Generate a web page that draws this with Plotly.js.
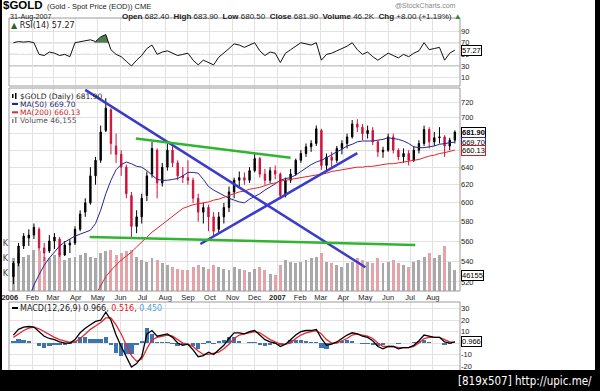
<!DOCTYPE html>
<html><head><meta charset="utf-8">
<script src="https://cdn.plot.ly/plotly-3.0.1.min.js"></script>
<style>html,body{margin:0;padding:0;background:#000;}#chart{width:600px;height:391px;}</style>
</head><body><div id="chart"></div>
<script>
// ---------- DATA (weekly) ----------
const weeks = ['2006-01-06','2006-01-13','2006-01-20','2006-01-27','2006-02-03','2006-02-10','2006-02-17','2006-02-24','2006-03-03','2006-03-10',
'2006-03-17','2006-03-24','2006-03-31','2006-04-07','2006-04-14','2006-04-21','2006-04-28','2006-05-05','2006-05-12','2006-05-19',
'2006-05-26','2006-06-02','2006-06-09','2006-06-16','2006-06-23','2006-06-30','2006-07-07','2006-07-14','2006-07-21','2006-07-28',
'2006-08-04','2006-08-11','2006-08-18','2006-08-25','2006-09-01','2006-09-08','2006-09-15','2006-09-22','2006-09-29','2006-10-06',
'2006-10-13','2006-10-20','2006-10-27','2006-11-03','2006-11-10','2006-11-17','2006-11-24','2006-12-01','2006-12-08','2006-12-15',
'2006-12-22','2006-12-29','2007-01-05','2007-01-12','2007-01-19','2007-01-26','2007-02-02','2007-02-09','2007-02-16','2007-02-23',
'2007-03-02','2007-03-09','2007-03-16','2007-03-23','2007-03-30','2007-04-06','2007-04-13','2007-04-20','2007-04-27','2007-05-04',
'2007-05-11','2007-05-18','2007-05-25','2007-06-01','2007-06-08','2007-06-15','2007-06-22','2007-06-29','2007-07-06','2007-07-13',
'2007-07-20','2007-07-27','2007-08-03','2007-08-10','2007-08-17','2007-08-24','2007-08-31'];

const priceOpen = [525,538,555,563,566,572,553,550,560,562, 546,556,558,572,590,600,630,648,684,710,
665,655,640,608,575,585,608,632,660,622, 640,660,645,630,628,625,605,590,595,585,
572,585,595,612,625,628,625,636,650,632, 625,636,632,608,625,632,648,656,664,668,
684,642,652,648,662,668,676,692,688,680, 684,670,658,660,676,660,652,656,648,660,
668,685,670,675,676,665,672];
const priceHigh = [540,558,568,572,578,574,558,566,568,564, 560,562,575,592,605,640,652,690,725,712,
680,660,643,612,592,610,635,670,662,645, 668,666,648,640,648,628,610,600,598,590,
590,600,618,628,635,634,640,656,652,638, 640,642,634,628,638,650,660,668,672,690,
686,656,658,665,672,680,697,698,692,690, 688,672,664,680,680,662,662,660,665,672,
690,688,682,688,678,675,684];
const priceLow = [518,535,552,555,562,550,540,548,552,544, 545,548,556,570,585,598,620,645,682,655,
645,630,605,564,568,578,602,628,605,618, 636,640,625,622,620,600,580,578,570,565,
568,578,590,605,618,620,622,634,628,620, 622,626,604,606,622,630,645,652,658,665,
637,636,640,645,655,662,674,682,672,674, 666,652,651,658,656,648,645,642,646,656,
665,662,665,668,652,660,668];
const priceClose = [538,555,565,566,574,553,548,560,564,546, 556,558,572,588,600,630,648,682,712,668,
655,640,610,575,585,605,630,662,622,640, 660,645,630,628,625,605,590,595,585,570,
585,595,612,625,628,625,636,650,632,625, 636,632,608,625,632,648,656,664,668,686,
642,652,648,662,668,676,692,688,680,684, 670,658,660,676,660,652,656,648,660,668,
685,670,675,676,665,672,681.9];
const volumeK = [95,110,100,105,120,115,100,95,105,110, 90,95,100,105,110,100,95,110,115,120,
105,110,115,120,100,90,85,95,90,80, 75,70,65,60,60,70,75,70,65,75,
70,65,60,70,65,60,55,65,70,60, 50,45,75,90,85,80,85,90,95,100,
110,85,80,75,70,80,85,95,90,85, 80,95,80,85,90,80,75,70,85,90,
100,110,95,105,130,85,60];
const ma50 = [null,null,null,505,517,527,536,543,549,555, 559,562,565,567,569,571,578,592,610,625,
637,643,646,644,641,640,636,631,626,625, 625,626,627,630,634,634,633,626,618,614,
611,608,605,603,601,600,604,607,610,614, 618,621,625,627,628,631,635,639,643,646,
648,651,655,658,661,665,667,670,671,671, 671,672,673,675,674,673,671,668,664,663,
663,664,665,667,668,669,669.7];
const ma200 = [null,null,null,null,null,null,null,null,null,null, null,null,null,null,null,null,508,516,525,531,
536,541,545,549,554,559,564,569,573,577, 581,586,590,594,596,598,599,600,601,603,
604,606,608,610,612,613,615,616,617,619, 621,622,624,625,626,627,628,629,630,631,
632,633,635,636,637,638,639,640,640,641, 641,642,643,644,644,645,646,647,648,649,
651,653,654,656,657,659,660.13];
const rsi14 = [70,72,71,72,70,50,48,54,52,48, 50,46,70,72,74,75,72,80,84,58,
50,46,38,30,40,48,60,66,50,54, 56,52,48,50,52,40,32,40,36,32,
45,52,60,68,66,62,66,70,56,48, 54,52,36,52,58,64,70,68,66,70,
40,50,52,56,60,64,70,58,50,54, 46,40,46,52,48,44,50,46,52,56,
70,58,60,62,40,52,57.27];
const rsiFillDates = ['2006-04-26','2006-04-28','2006-05-05','2006-05-12','2006-05-16'];
const rsiFillVals = [70,72,80,84,70];
const macdLine = [7,12,14,14.5,14,10,6,4,3,1, 0,0,3,9,13,16,19,20,27,20,
7,-3,-12,-21,-18,-12,8,11,6,7, 8,5,0,-2,-1,-6,-12,-11,-8,-10,
-6,-2,4,9,9,8,10,11,7,3, 1,0,-3,-1,3,7,10,11,11,12,
4,-2,-1,1,4,7,9,8,6,5, 2,-3,-5,-3,-3,-5,-4,-4,-2,2,
7,6,5,5,1,0,0.966];
const macdSignal = [5,8,11,13,14,12.5,10,7,5,3, 1.5,0.5,1,4,8,12,15,18,22,22,
16,8,-2,-11,-16,-14,-5,3,5,6, 7,6,3,0,-1,-3,-7,-10,-10,-9,
-8,-5,-1,4,7,8,9,10,9,6, 3,1,-1,-1,0,4,7,9,10,11,
8,3,0,0,2,4,7,8,7,6, 4,0,-3,-3,-3,-4,-4,-4,-3,0,
4,5,5,5,3,1,0.516];
const macdHist = [2,4,3,1.5,0,-2.5,-4,-3,-2,-2, -1.5,-0.5,2,5,5,4,4,4,5,-2,
-9,-11,-10,-10,-2,2,13,8,1,1, 1,-1,-3,-2,0,-3,-5,-1,2,-1,
2,3,5,5,2,0,1,1,-2,-3, -2,-1,-2,0,3,3,3,2,1,1,
-4,-5,-1,1,2,3,2,0,-1,-1, -2,-3,-2,0,0,-1,0,0,1,2,
3,1,0,0,-2,-1,0.45];
// trend lines drawn on the chart (date, price)
const trendBlueDown = {x:['2006-04-14','2007-05-01'], y:[736,534]};
const trendBlueUp   = {x:['2006-09-18','2007-04-20'], y:[557,656.5]};
const trendGreenTop = {x:['2006-06-22','2007-01-19'], y:[674,651]};
const trendGreenLow = {x:['2006-04-20','2007-07-08'], y:[564,556]};
// axis ticks
const monthTicks = ['2006-01-01','2006-02-01','2006-03-01','2006-04-01','2006-05-01','2006-06-01','2006-07-01','2006-08-01','2006-09-01','2006-10-01','2006-11-01','2006-12-01',
'2007-01-01','2007-02-01','2007-03-01','2007-04-01','2007-05-01','2007-06-01','2007-07-01','2007-08-01'];
const monthLabels = ['<b>2006</b>','Feb','Mar','Apr','May','Jun','Jul','Aug','Sep','Oct','Nov','Dec','<b>2007</b>','Feb','Mar','Apr','May','Jun','Jul','Aug'];
const priceTicks = [520,540,560,580,600,620,640,660,680,700,720];
const priceTickText = ['520','540','560','580','600','620','640','','','700','720'];
const rsiTicks = [10,30,50,70,90];
const macdTicks = [-20,-10,0,10,20,30];
const macdTickText = ['-20','-10','','10','20','30'];

// ---------- LAYOUT HELPERS ----------
const W = 600, H = 391;
const px = v => v / W;
const py = v => 1 - v / H;
const PL = 9, PR = 460;
const volColors = priceClose.map((c, i) => c >= priceOpen[i] ? '#a9a9a9' : '#e3a3a8');

const tickFont = {family:'Liberation Sans, Arial, sans-serif', size:7.5, color:'#222'};
const legFont = {family:'DejaVu Sans, Verdana, sans-serif', size:7.5, color:'#222'};

const traces = [
  {type:'scatter', mode:'lines', x:rsiFillDates, y:rsiFillVals, fill:'toself', fillcolor:'#4f7c4f', line:{width:0}, xaxis:'x', yaxis:'y', hoverinfo:'skip'},
  {type:'scatter', mode:'lines', x:weeks, y:rsi14, line:{color:'#111', width:1}, xaxis:'x', yaxis:'y', hoverinfo:'skip'},
  {type:'bar', x:weeks, y:volumeK, marker:{color:volColors, line:{width:0}}, width:4*86400000, xaxis:'x', yaxis:'y2', hoverinfo:'skip'},
  {type:'candlestick', x:weeks, open:priceOpen, high:priceHigh, low:priceLow, close:priceClose, xaxis:'x', yaxis:'y3',
    increasing:{line:{color:'#000', width:1}, fillcolor:'#000'}, decreasing:{line:{color:'#d0103a', width:1}, fillcolor:'#d0103a'}, whiskerwidth:0, hoverinfo:'skip'},
  {type:'scatter', mode:'lines', x:weeks, y:ma50, line:{color:'#25259a', width:1}, xaxis:'x', yaxis:'y3', hoverinfo:'skip'},
  {type:'scatter', mode:'lines', x:weeks, y:ma200, line:{color:'#e3262a', width:1}, xaxis:'x', yaxis:'y3', hoverinfo:'skip'},
  {type:'scatter', mode:'lines', x:trendBlueDown.x, y:trendBlueDown.y, line:{color:'#3a3acb', width:2.5}, xaxis:'x', yaxis:'y3', hoverinfo:'skip'},
  {type:'scatter', mode:'lines', x:trendBlueUp.x, y:trendBlueUp.y, line:{color:'#3a3acb', width:2.5}, xaxis:'x', yaxis:'y3', hoverinfo:'skip'},
  {type:'scatter', mode:'lines', x:trendGreenTop.x, y:trendGreenTop.y, line:{color:'#2fb52f', width:2.5}, xaxis:'x', yaxis:'y3', hoverinfo:'skip'},
  {type:'scatter', mode:'lines', x:trendGreenLow.x, y:trendGreenLow.y, line:{color:'#2fb52f', width:2.5}, xaxis:'x', yaxis:'y3', hoverinfo:'skip'},
  {type:'bar', x:weeks, y:macdHist, marker:{color:'#3b74b0', line:{width:0}}, width:6*86400000, xaxis:'x', yaxis:'y4', hoverinfo:'skip'},
  {type:'scatter', mode:'lines', x:weeks, y:macdSignal, line:{color:'#e8262e', width:1.3}, xaxis:'x', yaxis:'y4', hoverinfo:'skip'},
  {type:'scatter', mode:'lines', x:weeks, y:macdLine, line:{color:'#000', width:1.3}, xaxis:'x', yaxis:'y4', hoverinfo:'skip'}
];

function txt(x, y, text, font, extra) {
  return Object.assign({xref:'paper', yref:'paper', x:px(x), y:py(y), xanchor:'left', yanchor:'middle',
    text:text, showarrow:false, font:font, borderpad:0}, extra || {});
}
function box(yref, yval, text, color) {
  return {xref:'paper', yref:yref, x:px(PR+1), y:yval, xanchor:'left', yanchor:'middle', text:text, showarrow:false,
    font:{family:'Liberation Sans, Arial, sans-serif', size:7.5, color:'#000'}, bgcolor:'#fff', bordercolor:color, borderwidth:1, borderpad:0};
}

const annotations = [
  txt(2, 5.5, '<b>$GOLD</b>', {family:'Liberation Sans, Arial, sans-serif', size:11.5, color:'#000'}),
  txt(46, 6, '(Gold - Spot Price (EOD)) CME', {family:'Liberation Sans, Arial, sans-serif', size:7.5, color:'#222'}),
  txt(9, 16.3, '31-Aug-2007', {family:'Liberation Sans, Arial, sans-serif', size:7.2, color:'#222'}),
  txt(121, 16.3, '<b>Open</b> 682.40  <b>High</b> 683.90  <b>Low</b> 680.50  <b>Close</b> 681.90  <b>Volume</b> 46.2K  <b>Chg</b> +8.00 (+1.19%) <span style="color:#2a8a2a">▲</span>',
      {family:'Liberation Sans, Arial, sans-serif', size:8, color:'#222'}),
  txt(394, 5.5, '@StockCharts.com', {family:'Liberation Sans, Arial, sans-serif', size:7, color:'#888'}),
  txt(10, 25.5, '<span style="color:#2f5f2f">▲</span> RSI(14) 57.27', {family:legFont.family, size:8, color:'#222'}),
  txt(19, 96, '$GOLD (Daily) 681.90', legFont),
  txt(19, 104, 'MA(50) 669.70', {family:legFont.family, size:7.5, color:'#25256a'}),
  txt(19, 112.3, 'MA(200) 660.13', {family:legFont.family, size:7.5, color:'#d02020'}),
  txt(19, 120.5, 'Volume 46,155', {family:legFont.family, size:7.5, color:'#555'}),
  txt(19, 308, 'MACD(12,26,9) 0.966, <span style="color:#e02020">0.516</span>, <span style="color:#5aa0d8">0.450</span>', {family:legFont.family, size:8, color:'#222'}),
  box('y', 57.27, '57.27', '#000'),
  box('y3', Math.log10(681.9), '<b>681.90</b>', '#000'),
  box('y3', Math.log10(669.7), '669.70', '#2a2aa0'),
  box('y3', Math.log10(660.13), '660.13', '#d02020'),
  box('y2', 46.155, '46155', '#000'),
  box('y4', 0.966, '0.966', '#000'),
  {xref:'paper', yref:'paper', x:px(594), y:py(381), xanchor:'right', yanchor:'middle', showarrow:false,
   text:'[819x507] http://upic.me/', font:{family:'DejaVu Sans Condensed, DejaVu Sans, sans-serif', size:11.5, color:'#fff'}}
];

const shapes = [
  // RSI guide lines
  {type:'line', xref:'paper', yref:'y', x0:px(PL), x1:px(PR), y0:70, y1:70, line:{color:'#9a9a9a', width:1}, layer:'between'},
  {type:'line', xref:'paper', yref:'y', x0:px(PL), x1:px(PR), y0:30, y1:30, line:{color:'#9a9a9a', width:1}, layer:'between'},
  {type:'line', xref:'paper', yref:'y', x0:px(PL), x1:px(PR), y0:50, y1:50, line:{color:'#9a9a9a', width:1, dash:'dashdot'}, layer:'between'},
  // panel frames
  {type:'rect', xref:'paper', yref:'paper', x0:px(PL), x1:px(PR), y0:py(86), y1:py(18), line:{color:'#9a9a9a', width:1}, layer:'above'},
  {type:'rect', xref:'paper', yref:'paper', x0:px(PL), x1:px(PR), y0:py(291), y1:py(88), line:{color:'#9a9a9a', width:1}, layer:'above'},
  {type:'rect', xref:'paper', yref:'paper', x0:px(PL), x1:px(PR), y0:py(375), y1:py(302), line:{color:'#9a9a9a', width:1}, layer:'above'},
  // legend icons
  {type:'line', xref:'paper', yref:'paper', x0:px(12), x1:px(18), y0:py(104), y1:py(104), line:{color:'#25259a', width:2}, layer:'above'},
  {type:'line', xref:'paper', yref:'paper', x0:px(12), x1:px(18), y0:py(112.3), y1:py(112.3), line:{color:'#e3262a', width:2}, layer:'above'},
  {type:'line', xref:'paper', yref:'paper', x0:px(12), x1:px(18), y0:py(308), y1:py(308), line:{color:'#000', width:2}, layer:'above'},
  {type:'rect', xref:'paper', yref:'paper', x0:px(12), x1:px(13.5), y0:py(98), y1:py(94), line:{width:0}, fillcolor:'#000', layer:'above'},
  {type:'rect', xref:'paper', yref:'paper', x0:px(15), x1:px(16.5), y0:py(99), y1:py(93), line:{width:0}, fillcolor:'#000', layer:'above'},
  {type:'rect', xref:'paper', yref:'paper', x0:px(12), x1:px(13.5), y0:py(123), y1:py(119), line:{width:0}, fillcolor:'#888', layer:'above'},
  {type:'rect', xref:'paper', yref:'paper', x0:px(15), x1:px(16.5), y0:py(123), y1:py(117), line:{width:0}, fillcolor:'#888', layer:'above'},
  // outer black frame
  {type:'rect', xref:'paper', yref:'paper', x0:0, x1:px(2), y0:0, y1:1, line:{width:0}, fillcolor:'#000', layer:'above'},
  {type:'rect', xref:'paper', yref:'paper', x0:px(595), x1:1, y0:0, y1:1, line:{width:0}, fillcolor:'#000', layer:'above'},
  {type:'rect', xref:'paper', yref:'paper', x0:0, x1:1, y0:0, y1:py(370), line:{width:0}, fillcolor:'#000', layer:'above'}
];

const gridC = '#e2e2e2';
const layout = {
  width:W, height:H, margin:{l:0, r:0, t:0, b:0}, paper_bgcolor:'#fff', plot_bgcolor:'#fff', showlegend:false,
  bargap:0, boxgap:0.62,
  xaxis:{type:'date', domain:[px(PL), px(PR)], range:['2005-12-31','2007-09-07'], anchor:'y2',
    tickmode:'array', tickvals:monthTicks, ticktext:monthLabels, ticks:'', showgrid:true, gridcolor:gridC, gridwidth:1,
    tickfont:tickFont, tickangle:0, showline:false, zeroline:false, rangeslider:{visible:false}, fixedrange:true},
  yaxis:{domain:[py(86), py(18)], range:[-4.3,112.4], side:'right', anchor:'x', tickmode:'array', tickvals:rsiTicks,
    ticks:'', gridcolor:gridC, zeroline:false, tickfont:tickFont, fixedrange:true},
  yaxis2:{domain:[py(291), py(88)], range:[0,589], side:'left', anchor:'x', tickmode:'array', tickvals:[52,96,139], ticktext:['K','K','K'],
    ticks:'', showgrid:false, zeroline:false, tickfont:{family:'DejaVu Sans, sans-serif', size:8, color:'#444'}, fixedrange:true},
  yaxis3:{type:'log', overlaying:'y2', side:'right', anchor:'x', range:[Math.log10(511.6), Math.log10(738.5)],
    tickmode:'array', tickvals:priceTicks, ticktext:priceTickText, ticks:'', gridcolor:gridC, zeroline:false, tickfont:tickFont, fixedrange:true},
  yaxis4:{domain:[py(375), py(302)], range:[-28, 36], side:'right', anchor:'x', tickmode:'array', tickvals:macdTicks, ticktext:macdTickText,
    ticks:'', gridcolor:gridC, zeroline:false, tickfont:tickFont, fixedrange:true},
  annotations:annotations, shapes:shapes
};

Plotly.newPlot('chart', traces, layout, {displayModeBar:false, staticPlot:true});
</script></body></html>
